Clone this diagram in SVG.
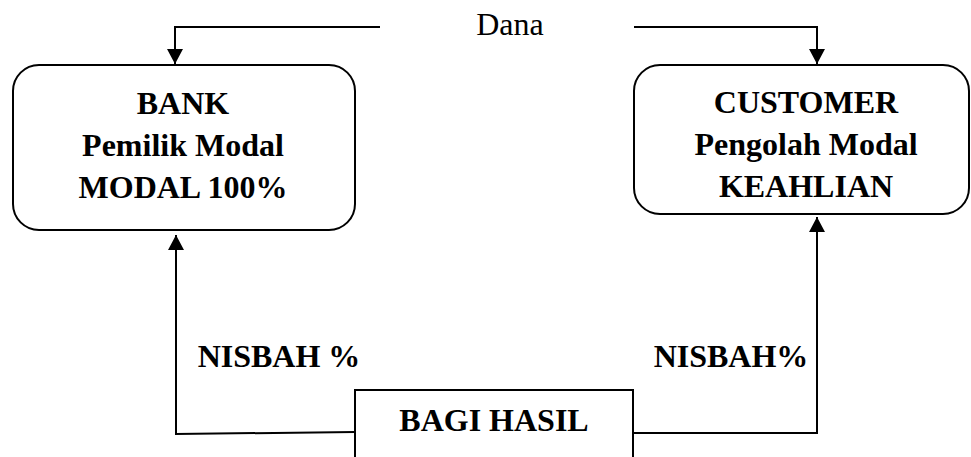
<svg xmlns="http://www.w3.org/2000/svg" width="971" height="457" viewBox="0 0 971 457">
<style>
.box{fill:#fff;stroke:#000;stroke-width:2}
.ln{fill:none;stroke:#000;stroke-width:2}
.t{font-family:"Liberation Serif","Times New Roman",serif;font-size:32px;fill:#000;text-anchor:middle}
.b{font-weight:bold}
</style>
<defs>
<marker id="ah" markerWidth="16" markerHeight="16" refX="15" refY="8" orient="auto" markerUnits="userSpaceOnUse">
<path d="M0,0 L15,8 L0,16 Z" fill="#000"/>
</marker>
</defs>
<g id="connectors">
<polyline class="ln" points="380,27 175,27 175,64" marker-end="url(#ah)"/>
<polyline class="ln" points="634,27 817,27 817,64" marker-end="url(#ah)"/>
<polyline class="ln" points="355,432 176,434 176,235" marker-end="url(#ah)"/>
<polyline class="ln" points="633,433 817,433 817,217" marker-end="url(#ah)"/>
</g>
<g id="label-dana">
<text class="t" x="510" y="35">Dana</text>
</g>
<g id="bank">
<rect class="box" x="13" y="65" width="342" height="165" rx="26"/>
<text class="t b" x="183" y="114">BANK</text>
<text class="t b" x="183" y="156">Pemilik Modal</text>
<text class="t b" x="183" y="198">MODAL 100%</text>
</g>
<g id="customer">
<rect class="box" x="634" y="65" width="335" height="149" rx="26"/>
<text class="t b" x="806" y="113">CUSTOMER</text>
<text class="t b" x="806" y="155">Pengolah Modal</text>
<text class="t b" x="806" y="197">KEAHLIAN</text>
</g>
<g id="label-nisbah-left">
<text class="t b" x="279" y="367">NISBAH %</text>
</g>
<g id="label-nisbah-right">
<text class="t b" x="731" y="367">NISBAH%</text>
</g>
<g id="bagi-hasil">
<rect class="box" x="355" y="390" width="278" height="80"/>
<text class="t b" x="494" y="431">BAGI HASIL</text>
</g>
</svg>
